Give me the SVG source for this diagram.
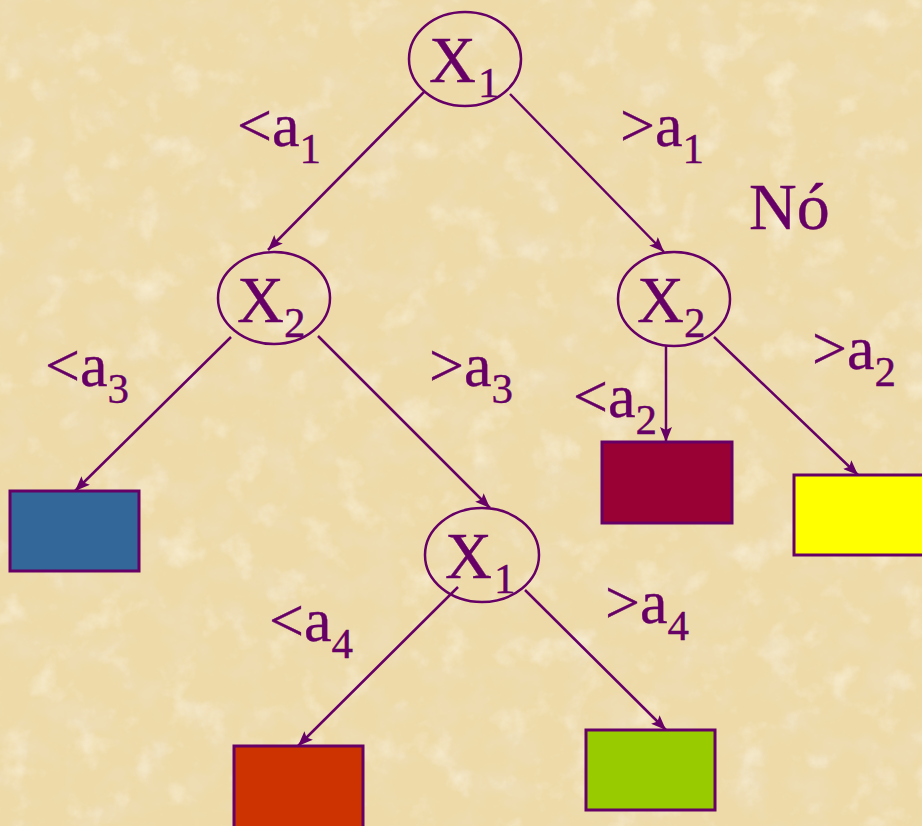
<svg xmlns="http://www.w3.org/2000/svg" width="922" height="826" viewBox="0 0 922 826">
  <defs>
    <filter id="parchment" x="0" y="0" width="100%" height="100%">
      <feTurbulence type="fractalNoise" baseFrequency="0.03" numOctaves="5" seed="11" result="noise"/>
      <!-- darker tan blotches -->
      <feColorMatrix in="noise" type="matrix" values="0 0 0 0 0.85  0 0 0 0 0.73  0 0 0 0 0.50  1.6 0 0 0 -0.7" result="dark"/>
      <!-- pale cream patches -->
      <feColorMatrix in="noise" type="matrix" values="0 0 0 0 0.98  0 0 0 0 0.93  0 0 0 0 0.78  0 -1.4 0 0 0.62" result="light"/>
      <feMerge>
        <feMergeNode in="SourceGraphic"/>
        <feMergeNode in="dark"/>
        <feMergeNode in="light"/>
      </feMerge>
    </filter>
    <marker id="arrow" markerUnits="userSpaceOnUse" markerWidth="16" markerHeight="12" refX="15" refY="6" orient="auto">
      <path d="M0,0 L15,6 L0,12 L3,6 z" fill="#660066"/>
    </marker>
    <style>
      .node ellipse { fill: none; stroke: #660066; stroke-width: 2.5; }
      .leaf rect { stroke: #660066; stroke-width: 3; }
      .edges line { stroke: #660066; stroke-width: 2.5; marker-end: url(#arrow); }
      text { font-family: "Liberation Serif", "Times New Roman", serif; fill: #660066; stroke: #660066; stroke-width: 0.4; }
      .var { font-size: 65px; }
      .lbl { font-size: 62px; }
      .sub { font-size: 43px; }
    </style>
  </defs>

  <!-- paper background -->
  <rect width="922" height="826" fill="#EEDAA8" filter="url(#parchment)"/>

  <!-- connectors -->
  <g id="edges" class="edges">
    <line x1="424" y1="92" x2="268" y2="250"/>
    <line x1="510" y1="94" x2="664" y2="252"/>
    <line x1="231" y1="337" x2="75" y2="491"/>
    <line x1="318" y1="336" x2="490" y2="508"/>
    <line x1="666" y1="346" x2="666" y2="442"/>
    <line x1="714" y1="337" x2="858" y2="475"/>
    <line x1="458" y1="587" x2="298" y2="746"/>
    <line x1="525" y1="590" x2="666" y2="730"/>
  </g>

  <!-- decision nodes -->
  <g id="n-root" class="node">
    <ellipse cx="465" cy="59" rx="56" ry="47"/>
    <text class="var" x="429" y="82">X<tspan class="sub" x="478" y="97">1</tspan></text>
  </g>
  <g id="n-left" class="node">
    <ellipse cx="274" cy="298" rx="56" ry="46"/>
    <text class="var" x="237" y="322">X<tspan class="sub" x="284" y="337">2</tspan></text>
  </g>
  <g id="n-right" class="node">
    <ellipse cx="674" cy="299" rx="56" ry="47"/>
    <text class="var" x="637" y="322">X<tspan class="sub" x="684" y="337">2</tspan></text>
  </g>
  <g id="n-mid" class="node">
    <ellipse cx="482" cy="555" rx="57" ry="47"/>
    <text class="var" x="445" y="578">X<tspan class="sub" x="494" y="593">1</tspan></text>
  </g>

  <!-- leaves -->
  <g id="leaf-blue" class="leaf"><rect x="10" y="491" width="129" height="80" fill="#336699"/></g>
  <g id="leaf-maroon" class="leaf"><rect x="602" y="442" width="130" height="81" fill="#990033"/></g>
  <g id="leaf-yellow" class="leaf"><rect x="794" y="475" width="130" height="80" fill="#FFFF00"/></g>
  <g id="leaf-red" class="leaf"><rect x="234" y="746" width="129" height="84" fill="#CC3300"/></g>
  <g id="leaf-green" class="leaf"><rect x="586" y="730" width="129" height="80" fill="#99CC00"/></g>

  <!-- branch labels -->
  <g id="labels">
    <text class="lbl" x="237" y="146">&lt;a<tspan class="sub" dy="17">1</tspan></text>
    <text class="lbl" x="620" y="146">&gt;a<tspan class="sub" dy="17">1</tspan></text>
    <text class="lbl" x="749" y="229" style="font-size:66px">Nó</text>
    <text class="lbl" x="45" y="386">&lt;a<tspan class="sub" dy="17">3</tspan></text>
    <text class="lbl" x="429" y="386">&gt;a<tspan class="sub" dy="17">3</tspan></text>
    <text class="lbl" x="573" y="417">&lt;a<tspan class="sub" dy="17">2</tspan></text>
    <text class="lbl" x="812" y="369">&gt;a<tspan class="sub" dy="17">2</tspan></text>
    <text class="lbl" x="269" y="641">&lt;a<tspan class="sub" dy="17">4</tspan></text>
    <text class="lbl" x="605" y="623">&gt;a<tspan class="sub" dy="17">4</tspan></text>
  </g>
</svg>
